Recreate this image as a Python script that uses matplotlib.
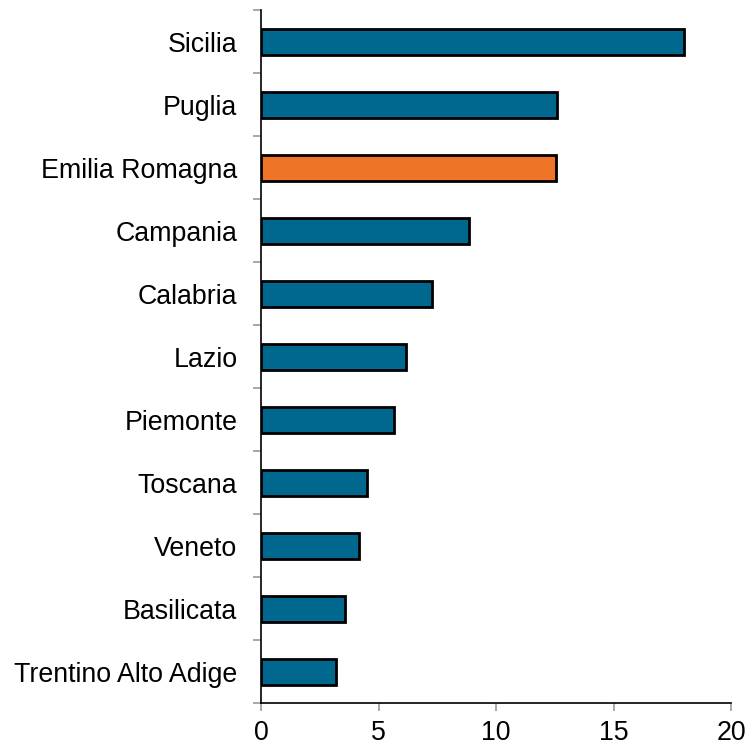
import matplotlib.pyplot as plt
import numpy as np

plt.rcParams['font.family'] = ['Liberation Sans', 'DejaVu Sans']

regions = ['Sicilia', 'Puglia', 'Emilia Romagna', 'Campania', 'Calabria', 'Lazio',
           'Piemonte', 'Toscana', 'Veneto', 'Basilicata', 'Trentino Alto Adige']
values = [18.0, 12.6, 12.55, 8.85, 7.28, 6.17, 5.67, 4.5, 4.17, 3.58, 3.18]
highlight = 'Emilia Romagna'

blue = '#00688f'
orange = '#f07427'

fig = plt.figure(figsize=(7.49, 7.48), dpi=100)
ax = fig.add_axes([0.3485, 0.0595, 0.6275, 0.9265])

y = np.arange(len(regions))
colors = [orange if r == highlight else blue for r in regions]
ax.barh(y, values, height=0.4, color=colors, edgecolor='black', linewidth=2, zorder=3)

ax.set_ylim(len(regions) - 0.5, -0.5)
ax.set_xlim(0, 20)
ax.set_xticks([0, 5, 10, 15, 20])

# labels on category centres, tick marks on category boundaries
ax.set_yticks(y)
ax.set_yticklabels(regions)
ax.set_yticks(np.arange(len(regions) + 1) - 0.5, minor=True)
ax.tick_params(axis='y', which='major', length=0, pad=17, labelsize=19.3)
ax.tick_params(axis='y', which='minor', length=6, width=1.2, color='#999999')
ax.tick_params(axis='x', length=6, width=1.2, color='#999999', pad=6, labelsize=19.3)

for side in ['top', 'right']:
    ax.spines[side].set_visible(False)
ax.spines['left'].set_linewidth(1.2)
ax.spines['bottom'].set_linewidth(1.2)

fig.savefig('out.png', dpi=100)
